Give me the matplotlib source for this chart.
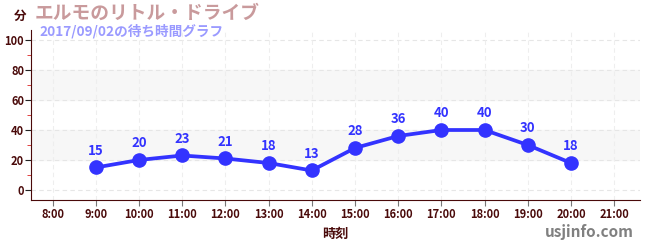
import matplotlib
matplotlib.use('Agg')
import matplotlib.pyplot as plt

plt.rcParams['font.family'] = ['Noto Sans CJK JP', 'DejaVu Sans']

hours = [9, 10, 11, 12, 13, 14, 15, 16, 17, 18, 19, 20]
waits = [15, 20, 23, 21, 18, 13, 28, 36, 40, 40, 30, 18]
tick_hours = list(range(8, 22))
tick_labels = ['%d:00' % h for h in tick_hours]
title = 'エルモのリトル・ドライブ'
subtitle = '2017/09/02の待ち時間グラフ'

maroon = '#4a0a0a'
blue = '#3333ff'

fig = plt.figure(figsize=(6.5, 2.5), dpi=100)
ax = fig.add_axes([0.0477, 0.2, 0.937, 0.68])

ax.axhspan(20, 40, color='#f7f7f7', zorder=0)
ax.axhspan(60, 80, color='#f7f7f7', zorder=0)
for y in range(0, 101, 20):
    ax.axhline(y, color='#e6e6e6', lw=0.8, ls=(0, (4, 3)), zorder=1)
for h in tick_hours:
    ax.axvline(h, color='#eeeeee', lw=0.8, ls=(0, (4, 3)), zorder=1)

ax.plot(hours, waits, color=blue, lw=2.7, marker='o', ms=9.5, zorder=3)
for h, w in zip(hours, waits):
    ax.annotate(str(w), (h, w), xytext=(0, 7), textcoords='offset points',
                ha='center', va='bottom', color=blue, fontsize=9.5, fontweight='bold')

ax.set_xlim(7.5, 21.6)
ax.set_ylim(-6.67, 106.67)
ax.set_xticks(tick_hours)
ax.set_xticklabels(tick_labels)
ax.set_yticks(range(0, 101, 20))
ax.set_yticks(range(10, 100, 20), minor=True)
ax.tick_params(axis='x', colors='#777777', labelcolor=maroon, labelsize=8, length=4, pad=2)
ax.tick_params(axis='y', which='major', colors='#222222', labelcolor=maroon, labelsize=8, length=4, pad=1)
ax.tick_params(axis='y', which='minor', colors='#dd2222', length=3)
for lab in ax.get_xticklabels() + ax.get_yticklabels():
    lab.set_fontweight('bold')

for s in ['top', 'right']:
    ax.spines[s].set_visible(False)
ax.spines['left'].set_color(maroon)
ax.spines['bottom'].set_color(maroon)

ax.set_xlabel('時刻', color=maroon, fontsize=9.5, fontweight='bold', labelpad=4)

fig.text(0.031, 0.935, '分', color=maroon, fontsize=9, fontweight='bold', ha='center', va='center')
fig.text(0.054, 0.945, title, color='#c99a9c', fontsize=13.5, fontweight='bold', va='center')
fig.text(0.061, 0.875, subtitle, color='#9a9aff', fontsize=9.8, fontweight='bold', va='center')
fig.text(0.975, 0.07, 'usjinfo.com', color='#808080', fontsize=11, fontweight='bold', ha='right', va='center')

fig.savefig('out.png', dpi=100)
plt.close()
